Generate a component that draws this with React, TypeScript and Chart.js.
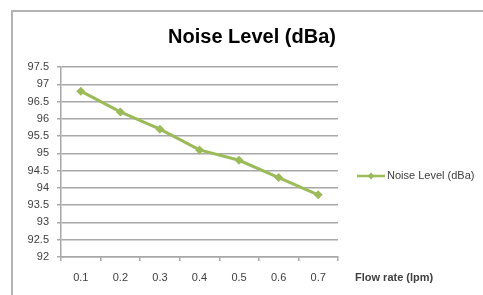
import React, { useEffect, useRef } from "react";
import { Chart, registerables } from "chart.js";
Chart.register(...registerables);

const categories = ["0.1", "0.2", "0.3", "0.4", "0.5", "0.6", "0.7"];
const noiseLevel = [96.8, 96.2, 95.7, 95.1, 94.8, 94.3, 93.8];
const seriesName = "Noise Level (dBa)";
const chartTitle = "Noise Level (dBa)";
const xAxisTitle = "Flow rate (lpm)";

const GREEN = "#9bbb59";
const FONT = "'Liberation Sans', Arial, sans-serif";

export default function App() {
  const ref = useRef<HTMLCanvasElement | null>(null);
  useEffect(() => {
    document.body.style.margin = "0";
    const decor = {
      id: "decor",
      beforeDraw(chart: any) {
        const ctx = chart.ctx;
        ctx.save();
        ctx.fillStyle = "#ffffff";
        ctx.fillRect(0, 0, chart.width, chart.height);
        ctx.strokeStyle = "#b4b4b4";
        ctx.lineWidth = 2;
        ctx.strokeRect(12, 11, chart.width + 20, chart.height + 20);
        ctx.restore();
      },
      afterDraw(chart: any) {
        const ctx = chart.ctx;
        ctx.save();
        // chart title
        ctx.font = "bold 20px " + FONT;
        ctx.fillStyle = "#000000";
        ctx.textBaseline = "middle";
        ctx.textAlign = "center";
        ctx.fillText(chartTitle, 252, 37);
        // x axis title to the right of the axis
        ctx.font = "bold 11px " + FONT;
        ctx.fillStyle = "#404040";
        ctx.textAlign = "left";
        ctx.fillText(xAxisTitle, 355, 278);
        // legend
        const ly = 176;
        ctx.strokeStyle = GREEN;
        ctx.lineWidth = 2.5;
        ctx.beginPath();
        ctx.moveTo(357, ly);
        ctx.lineTo(385, ly);
        ctx.stroke();
        ctx.fillStyle = GREEN;
        ctx.beginPath();
        const r = 3.5;
        ctx.moveTo(371, ly - r);
        ctx.lineTo(371 + r, ly);
        ctx.lineTo(371, ly + r);
        ctx.lineTo(371 - r, ly);
        ctx.closePath();
        ctx.fill();
        ctx.fillStyle = "#404040";
        ctx.font = "11px " + FONT;
        ctx.fillText(seriesName, 387, ly);
        ctx.restore();
      },
    };
    const chart = new Chart(ref.current!, {
      type: "line",
      data: {
        labels: categories,
        datasets: [
          {
            label: seriesName,
            data: noiseLevel,
            borderColor: GREEN,
            backgroundColor: GREEN,
            borderWidth: 3,
            pointStyle: "rectRot",
            pointRadius: 4.5,
            pointBorderWidth: 0,
            tension: 0,
          },
        ],
      },
      options: {
        animation: false,
        responsive: false,
        layout: { padding: { left: 0, right: 145, top: 67, bottom: 0 } },
        plugins: {
          legend: { display: false },
          tooltip: { enabled: false },
          title: { display: false },
        },
        scales: {
          x: {
            type: "category",
            offset: true,
            grid: {
              offset: true,
              drawOnChartArea: false,
              drawTicks: true,
              tickLength: 4,
              color: "#a8a8a8",
              lineWidth: 1.5,
            },
            border: { color: "#a8a8a8", width: 1.5 },
            ticks: {
              color: "#404040",
              font: { family: FONT, size: 11 },
              padding: 10,
              maxRotation: 0,
            },
            afterFit(scale: any) {
              scale.height = 38;
            },
          },
          y: {
            min: 92,
            max: 97.5,
            grid: {
              color: "#a8a8a8",
              lineWidth: 1.5,
              tickLength: 4,
            },
            border: { color: "#a8a8a8", width: 1.5 },
            ticks: {
              stepSize: 0.5,
              color: "#404040",
              font: { family: FONT, size: 11 },
              padding: 8,
              callback: (v: any) => String(Number(v)),
            },
            afterFit(scale: any) {
              scale.width = 61;
            },
          },
        },
      },
      plugins: [decor],
    });
    return () => chart.destroy();
  }, []);
  return <canvas ref={ref} width={483} height={295} style={{ display: "block" }} />;
}
